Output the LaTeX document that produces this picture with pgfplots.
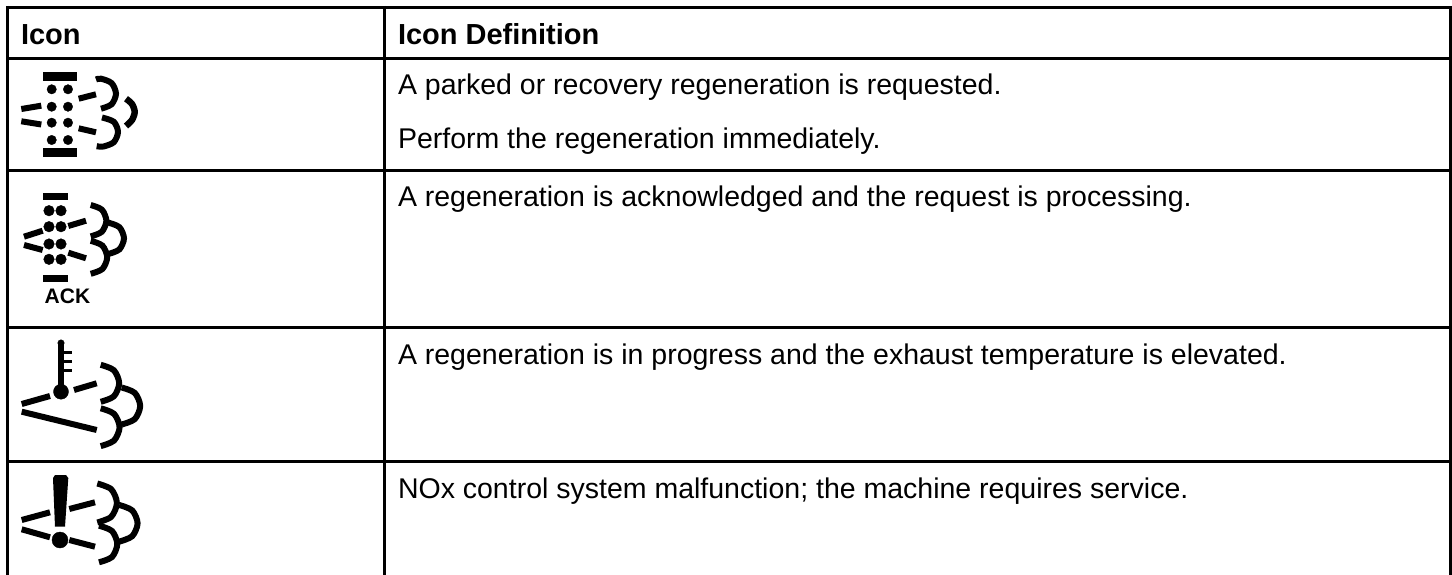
\documentclass[border=0pt]{standalone}
\usepackage{pgfplots}
\pgfplotsset{compat=1.18}
\usepackage{fontspec}
\setmainfont{Liberation Sans}
\tikzset{
  rl/.style={line width=3pt},
  dsh/.style={line width=6pt},
  arcs/.style={line width=6pt, smooth},
  dots/.style={only marks, mark=*, mark options={black, draw=none, fill=black}},
  txt/.style={anchor=base west, inner sep=0pt, outer sep=0pt, font=\fontsize{28.5}{32}\selectfont},
}
\begin{document}
\begin{tikzpicture}
\useasboundingbox (0,0) rectangle (1452pt,575pt);
\begin{axis}[
  at={(0,0)}, anchor=south west,
  scale only axis, width=1452pt, height=575pt,
  xmin=0, xmax=1452, ymin=0, ymax=575, y dir=reverse,
  hide axis, clip=true,
  every axis plot/.append style={black, no markers, line cap=butt, line join=miter},
]
% table rules
\addplot[rl] coordinates {(6,7.5) (1452,7.5)};
\addplot[rl] coordinates {(6,58.5) (1452,58.5)};
\addplot[rl] coordinates {(6,170.5) (1452,170.5)};
\addplot[rl] coordinates {(6,327.5) (1452,327.5)};
\addplot[rl] coordinates {(6,461) (1452,461)};
\addplot[rl] coordinates {(7.5,6) (7.5,575)};
\addplot[rl] coordinates {(384.5,6) (384.5,575)};
\addplot[rl] coordinates {(1450.5,6) (1450.5,575)};
% icon 1
\addplot[line width=9pt] coordinates {(43,76.5) (77,76.5)};
\addplot[line width=9pt] coordinates {(43,152.5) (77,152.5)};
\addplot[dots, mark size=4.7pt] coordinates {(51.7,89.3)(68,89.3)(51.7,106.7)(68,106.7)(51.7,122.7)(68,122.7)(51.7,140)(68,140)};
\addplot[dsh] coordinates {(21.3,109)(41.3,105.7)};
\addplot[dsh] coordinates {(21.3,121.3)(41.3,124.5)};
\addplot[dsh] coordinates {(78.7,98.7)(96,94.3)};
\addplot[dsh] coordinates {(78.7,128.3)(96,132.3)};
\addplot[arcs] coordinates {(96,79.5)(101,78.7)(111.6,83.1)(116,93.7)(111.6,104.3)(101,108.7)};
\addplot[arcs] coordinates {(102,117.5)(113.8,121.8)(118,132)(113.8,142.2)(103.5,146.5)(96.7,146.2)};
\addplot[arcs, line width=6.5pt] coordinates {(126,98.7)(132,104)(134.7,112)(132,120)(126,126)};
% icon 2
\addplot[line width=6.7pt] coordinates {(43.3,196.3)(68,196.3)};
\addplot[line width=6.7pt] coordinates {(43.3,278.3)(68,278.3)};
\addplot[dots, mark size=5.3pt] coordinates {(49,210.7)(61,210.7)(49,226.7)(61,226.7)(49,244)(61,244)(49,259.3)(61,259.3)};
\addplot[dsh] coordinates {(24,236.7)(42.7,230.7)};
\addplot[dsh] coordinates {(24,245)(42.7,250)};
\addplot[dsh] coordinates {(68.3,226)(86,220.7)};
\addplot[dsh] coordinates {(68.3,252.7)(86,258.3)};
\addplot[arcs] coordinates {(90.7,205)(101.8,209.6)(106.4,220.7)(101.8,231.8)(90.7,236.4)};
\addplot[arcs] coordinates {(90.7,240.8)(102.4,245.6)(107.2,257.3)(102.4,269)(90.7,273.8)};
\addplot[arcs] coordinates {(108.3,222.6)(119.4,227.2)(124,238.3)(119.4,249.4)(108.3,254)};
\node[anchor=base west, inner sep=0pt, font=\fontsize{21}{24}\selectfont\bfseries] at (axis cs:44.5,303) {ACK};
% icon 3
\addplot[line width=6.5pt] coordinates {(61,343)(61,392)};
\addplot[dots, mark size=3.25pt] coordinates {(61,343)};
\addplot[dots, mark size=7.5pt] coordinates {(61,391.7)};
\addplot[line width=3.5pt] coordinates {(61,352.3)(71.7,352.3)};
\addplot[line width=3.5pt] coordinates {(61,361.3)(71.7,361.3)};
\addplot[line width=3.5pt] coordinates {(61,370.7)(71.7,370.7)};
\addplot[dsh] coordinates {(21.7,404)(50,396)};
\addplot[dsh] coordinates {(21.7,411.7)(96.7,430)};
\addplot[dsh] coordinates {(74,390)(96.7,383.3)};
\addplot[arcs] coordinates {(100.7,364.8)(113.8,370.2)(119.2,383.3)(113.8,396.4)(100.7,401.8)};
\addplot[arcs] coordinates {(100.7,408.3)(114,413.8)(119.6,427.2)(114,440.6)(100.7,446.1)};
\addplot[arcs] coordinates {(121.7,387.5)(134.8,392.9)(140.2,406)(134.8,419.1)(121.7,424.5)};
% icon 4
\addplot[fill=black, draw=none] coordinates {(53,478)(55,475)(66,475)(68.3,478)(65,526.7)(55,526.7)} -- cycle;
\addplot[dots, mark size=8pt] coordinates {(60,540)};
\addplot[dsh] coordinates {(21.7,520)(50,512.3)};
\addplot[dsh] coordinates {(21.7,529.3)(50,537.3)};
\addplot[dsh] coordinates {(69.3,509)(95,502.3)};
\addplot[dsh] coordinates {(69.3,540)(95,546.7)};
\addplot[arcs] coordinates {(97.3,483.5)(111.2,489.2)(116.9,503)(111.2,516.8)(97.3,522.5)};
\addplot[arcs] coordinates {(99,525.7)(112,531)(117.3,544)(112,557)(99,562.3)};
\addplot[arcs] coordinates {(119.3,505)(132.2,510.4)(137.6,523.3)(132.2,536.2)(119.3,541.6)};
% text
\node[txt, font=\fontsize{29}{32}\selectfont\bfseries] at (axis cs:21,45) {Icon};
\node[txt, font=\fontsize{29}{32}\selectfont\bfseries] at (axis cs:398,45) {Icon Definition};
\node[txt] at (axis cs:398,95) {A parked or recovery regeneration is requested.};
\node[txt] at (axis cs:398,149) {Perform the regeneration immediately.};
\node[txt] at (axis cs:398,207) {A regeneration is acknowledged and the request is processing.};
\node[txt] at (axis cs:398,364.5) {A regeneration is in progress and the exhaust temperature is elevated.};
\node[txt] at (axis cs:398,498) {NOx control system malfunction; the machine requires service.};
\end{axis}
\end{tikzpicture}
\end{document}
